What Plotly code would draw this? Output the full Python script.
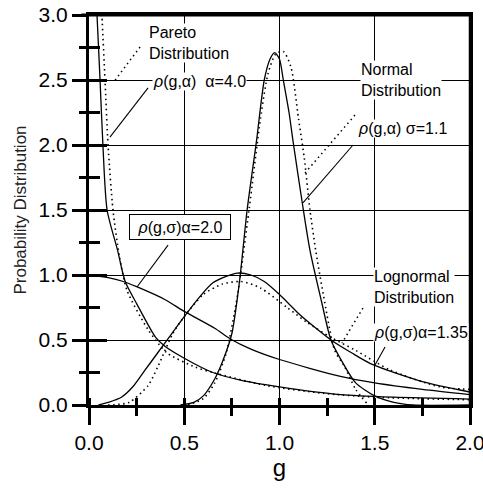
import plotly.graph_objects as go

# ---- data ----
pareto_g = [0.035, 0.042, 0.058, 0.073, 0.095, 0.15, 0.19, 0.25, 0.35, 0.40, 0.50, 0.65, 0.80, 1.0, 1.32, 1.6, 2.0]
pareto_p = [3.2, 3.0, 2.5, 2.0, 1.5, 1.19, 0.95, 0.78, 0.52, 0.45, 0.36, 0.25, 0.19, 0.14, 0.08, 0.06, 0.045]

pareto_dist_g = [0.062, 0.068, 0.084, 0.10, 0.126, 0.16, 0.20, 0.31, 0.41, 0.56, 0.65, 0.93, 1.23, 1.5, 2.0]
pareto_dist_p = [3.2, 3.0, 2.5, 2.0, 1.5, 1.14, 0.88, 0.58, 0.40, 0.29, 0.25, 0.15, 0.09, 0.06, 0.04]

alpha2_g = [0.0, 0.1, 0.18, 0.25, 0.40, 0.50, 0.66, 0.74, 0.85, 1.0, 1.32, 1.5, 1.75, 2.0]
alpha2_p = [1.0, 0.98, 0.95, 0.91, 0.81, 0.72, 0.59, 0.51, 0.43, 0.35, 0.22, 0.17, 0.12, 0.08]

lognorm_g = [0.05, 0.10, 0.17, 0.23, 0.29, 0.36, 0.43, 0.50, 0.58, 0.65, 0.72, 0.78, 0.85, 0.92, 1.0, 1.11, 1.20, 1.27, 1.38, 1.49, 1.75, 2.0]
lognorm_p = [0.0, 0.02, 0.06, 0.14, 0.26, 0.40, 0.54, 0.68, 0.83, 0.94, 0.99, 1.015, 1.0, 0.95, 0.85, 0.69, 0.58, 0.50, 0.40, 0.31, 0.18, 0.10]

lognorm_dist_g = [0.10, 0.21, 0.31, 0.36, 0.44, 0.50, 0.60, 0.70, 0.80, 0.90, 1.04, 1.14, 1.27, 1.40, 1.58, 1.84, 2.0]
lognorm_dist_p = [0.0, 0.02, 0.15, 0.29, 0.55, 0.68, 0.85, 0.93, 0.95, 0.90, 0.75, 0.64, 0.52, 0.42, 0.27, 0.14, 0.12]

normal_g = [0.48, 0.55, 0.60, 0.66, 0.70, 0.75, 0.79, 0.83, 0.88, 0.92, 0.95, 0.975, 1.0, 1.02, 1.05, 1.07, 1.12, 1.16, 1.22, 1.27, 1.33, 1.40, 1.50, 1.60, 1.70, 2.0]
normal_p = [0.0, 0.02, 0.07, 0.20, 0.33, 0.55, 0.95, 1.50, 2.04, 2.50, 2.66, 2.71, 2.66, 2.50, 2.25, 2.04, 1.55, 1.19, 0.80, 0.50, 0.33, 0.17, 0.07, 0.02, 0.0, 0.0]

normal_dist_g = [0.52, 0.60, 0.66, 0.72, 0.78, 0.84, 0.90, 0.94, 0.98, 1.02, 1.06, 1.10, 1.13, 1.16, 1.19, 1.23, 1.29, 1.34, 1.40, 1.46]
normal_dist_p = [0.0, 0.05, 0.17, 0.40, 0.85, 1.50, 2.20, 2.55, 2.70, 2.72, 2.60, 2.20, 1.90, 1.50, 1.19, 0.85, 0.42, 0.30, 0.12, 0.01]

x_ticks = [0.0, 0.5, 1.0, 1.5, 2.0]
x_tick_text = ["0.0", "0.5", "1.0", "1.5", "2.0"]
y_ticks = [0.0, 0.5, 1.0, 1.5, 2.0, 2.5, 3.0]
y_tick_text = ["0.0", "0.5", "1.0", "1.5", "2.0", "2.5", "3.0"]

FONT = "Liberation Sans, Arial, sans-serif"
DOTS = "1.5px,3.5px"

fig = go.Figure()

def solid(g, p):
    fig.add_trace(go.Scatter(x=g, y=p, mode="lines", showlegend=False, hoverinfo="skip",
                             line=dict(color="black", width=1.3, shape="spline", smoothing=0.7)))

def dotted(g, p):
    fig.add_trace(go.Scatter(x=g, y=p, mode="lines", showlegend=False, hoverinfo="skip",
                             line=dict(color="black", width=1.6, dash=DOTS, shape="spline", smoothing=0.7)))

dotted(pareto_dist_g, pareto_dist_p)
solid(pareto_g, pareto_p)
solid(alpha2_g, alpha2_p)
dotted(lognorm_dist_g, lognorm_dist_p)
solid(lognorm_g, lognorm_p)
dotted(normal_dist_g, normal_dist_p)
solid(normal_g, normal_p)

# dummy trace for overlay axes (crossing ticks)
fig.add_trace(go.Scatter(x=[None], y=[None], xaxis="x2", yaxis="y2", showlegend=False, hoverinfo="skip"))

# pointer lines (label -> curve)
pointers = [
    (0.268, 2.754, 0.126, 2.477, "dot"),
    (0.31, 2.44, 0.11, 2.06, "solid"),
    (1.396, 2.23, 1.134, 1.785, "dot"),
    (1.386, 2.00, 1.123, 1.554, "solid"),
    (1.438, 0.746, 1.328, 0.477, "dot"),
    (1.554, 0.446, 1.501, 0.308, "solid"),
    (0.415, 1.23, 0.252, 0.908, "solid"),
]
for x0, y0, x1, y1, d in pointers:
    fig.add_shape(type="line", xref="x", yref="y", x0=x0, y0=y0, x1=x1, y1=y1,
                  line=dict(color="black", width=1.5 if d == "dot" else 1.1,
                            dash=DOTS if d == "dot" else "solid"))

# frame: top and right borders of the plot area
fig.add_shape(type="line", xref="paper", yref="paper", x0=-0.02, y0=1, x1=1, y1=1,
              line=dict(color="black", width=3), layer="above")
fig.add_shape(type="line", xref="paper", yref="paper", x0=1, y0=0, x1=1, y1=1,
              line=dict(color="black", width=2.5), layer="above")

rho = "<i>ρ</i>"
ann_font = dict(family=FONT, size=16, color="black")
labels = [
    (0.31, 2.785, "Pareto<br>Distribution"),
    (0.33, 2.485, rho + "(g,α)  α=4.0"),
    (1.423, 2.50, "Normal<br>Distribution"),
    (1.407, 2.13, rho + "(g,α) σ=1.1"),
    (1.491, 0.904, "Lognormal<br>Distribution"),
    (1.491, 0.56, rho + "(g,σ)α=1.35"),
]
for x, y, t in labels:
    fig.add_annotation(x=x, y=y, xref="x", yref="y", text=t, showarrow=False,
                       xanchor="left", yanchor="middle", align="left",
                       font=ann_font, bgcolor="white", borderpad=0)

fig.add_annotation(x=0.478, y=1.369, xref="x", yref="y", text=rho + "(g,σ)α=2.0", showarrow=False,
                   xanchor="center", yanchor="middle", font=ann_font, bgcolor="white",
                   width=94, height=18,
                   bordercolor="black", borderwidth=1, borderpad=3)

fig.update_layout(
    width=483, height=491,
    margin=dict(l=89, r=13, t=15, b=86, autoexpand=False),
    paper_bgcolor="white", plot_bgcolor="white",
    font=dict(family=FONT, color="black"),
    xaxis=dict(range=[0, 2], tickvals=x_ticks, ticktext=x_tick_text, automargin=False,
               ticklabeloverflow="allow",
               ticks="outside", ticklen=17, tickwidth=3, tickcolor="black",
               minor=dict(dtick=0.25, ticks="outside", ticklen=8, tickwidth=3, tickcolor="black", showgrid=False),
               showgrid=True, gridcolor="black", gridwidth=1, zeroline=False,
               showline=True, linecolor="black", linewidth=3, mirror=True,
               tickfont=dict(family=FONT, size=21, color="black"),
               title=dict(text="g", font=dict(family=FONT, size=24, color="black"), standoff=0)),
    yaxis=dict(range=[0, 3], tickvals=y_ticks, ticktext=y_tick_text, automargin=False,
               ticklabeloverflow="allow",
               ticks="outside", ticklen=14, tickwidth=3, tickcolor="black",
               minor=dict(dtick=0.25, ticks="outside", ticklen=7, tickwidth=3, tickcolor="black", showgrid=False),
               showgrid=True, gridcolor="black", gridwidth=1, zeroline=False,
               showline=True, linecolor="black", linewidth=3, mirror=True,
               tickfont=dict(family=FONT, size=21, color="black"),
               title=dict(text="Probability Distribution", font=dict(family=FONT, size=17, color="#222"), standoff=8)),
    xaxis2=dict(overlaying="x", anchor="y2", range=[0, 2], side="bottom", automargin=False,
                showticklabels=False, showgrid=False, zeroline=False, showline=False,
                tickvals=x_ticks, ticks="",
                minor=dict(dtick=0.25, ticks="inside", ticklen=7, tickwidth=3, tickcolor="black", showgrid=False)),
    yaxis2=dict(overlaying="y", anchor="x2", range=[0, 3], side="left", automargin=False,
                showticklabels=False, showgrid=False, zeroline=False, showline=False,
                tickvals=y_ticks, ticks="inside", ticklen=18, tickwidth=3, tickcolor="black",
                minor=dict(dtick=0.25, ticks="inside", ticklen=11, tickwidth=3, tickcolor="black", showgrid=False)),
)

# remove the default 8px body margin so the figure sits at the page origin
fig.write_html("out.html", config={"displayModeBar": False},
               post_script="document.body.style.margin='0';document.body.style.overflow='hidden';")
